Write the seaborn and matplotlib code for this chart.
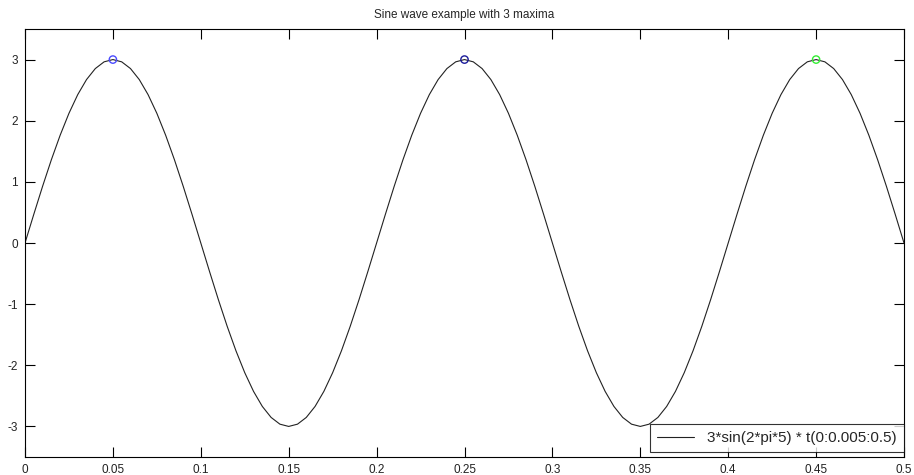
import matplotlib
matplotlib.use("Agg")
import matplotlib.pyplot as plt
import seaborn as sns
import pandas as pd

# time samples t = 0:0.005:0.5
t_values = [round(0.005 * i, 3) for i in range(101)]
# signal values (3*sin(2*pi*5*t) samples)
quarter_up = [0.0, 0.469, 0.927, 1.362, 1.763, 2.121, 2.427, 2.673, 2.853, 2.963, 3.0]
half_pos = quarter_up + [2.963, 2.853, 2.673, 2.427, 2.121, 1.763, 1.362, 0.927, 0.469]
half_neg = [0.0, -0.469, -0.927, -1.362, -1.763, -2.121, -2.427, -2.673, -2.853, -2.963,
            -3.0, -2.963, -2.853, -2.673, -2.427, -2.121, -1.763, -1.362, -0.927, -0.469]
y_values = half_pos + half_neg + half_pos + half_neg + half_pos + [0.0]

peak_t = [0.05, 0.25, 0.45]
peak_y = [3.0, 3.0, 3.0]
peak_colors = ["#4a4aff", "#1a1a9a", "#33ee33"]

x_ticks = [0, 0.05, 0.1, 0.15, 0.2, 0.25, 0.3, 0.35, 0.4, 0.45, 0.5]
x_labels = ["0", "0.05", "0.1", "0.15", "0.2", "0.25", "0.3", "0.35", "0.4", "0.45", "0.5"]
y_ticks = [-3, -2, -1, 0, 1, 2, 3]

title = "Sine wave example with 3 maxima"
legend_label = "3*sin(2*pi*5) * t(0:0.005:0.5)"

sns.set_theme(style="white")
plt.rcParams["font.family"] = ["Liberation Sans", "DejaVu Sans"]
plt.rcParams["axes.unicode_minus"] = False

fig = plt.figure(figsize=(9.14, 4.75), dpi=100)
ax_h = (457 - 29) / 475
ax = fig.add_axes([25 / 914, 18 / 475, (904 - 25) / 914, ax_h])

df = pd.DataFrame({"t": t_values, "y": y_values})
sns.lineplot(data=df, x="t", y="y", ax=ax, color="#222222", linewidth=0.8,
             estimator=None, sort=False, label=legend_label)
for tx, ty, c in zip(peak_t, peak_y, peak_colors):
    sns.scatterplot(x=[tx], y=[ty], ax=ax, marker="o", s=28, facecolor="none",
                    edgecolor=c, linewidth=1.0, legend=False, zorder=3)

ax.set_xlim(0, 0.5)
ax.set_ylim(-3.5, 3.5)
ax.set_xticks(x_ticks)
ax.set_xticklabels(x_labels)
ax.set_yticks(y_ticks)
ax.set_xlabel("")
ax.set_ylabel("")
ax.set_title(title, fontsize=8.5, pad=8)
ax.tick_params(direction="in", length=7, width=0.8, color="black",
               top=True, right=True, bottom=True, left=True,
               labelsize=8.5, labelcolor="#222222", pad=5)
for s in ax.spines.values():
    s.set_visible(True)
    s.set_color("black")
    s.set_linewidth(0.8)

leg = ax.legend(loc="lower right", bbox_to_anchor=(1.0, 5 / 428), fontsize=11,
                frameon=True, fancybox=False, borderaxespad=0.0,
                handlelength=2.4, borderpad=0.45, handletextpad=0.9)
leg.get_frame().set_edgecolor("black")
leg.get_frame().set_linewidth(0.8)

fig.savefig("out.png", dpi=100, facecolor="white")
